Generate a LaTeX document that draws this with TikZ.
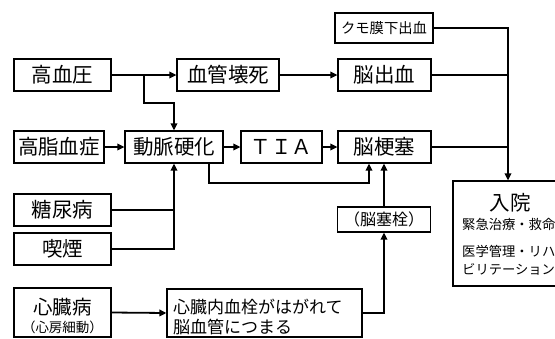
\documentclass[tikz,border=0pt]{standalone}
\usepackage{fontspec}
\setmainfont{Noto Sans CJK JP}
\usetikzlibrary{arrows.meta}
\newcommand{\myfs}[1]{\fontsize{#1pt}{#1pt}\selectfont}
\begin{document}
\begin{tikzpicture}[x=1pt,y=-1pt,
  box/.style={draw, line width=1.2pt, inner sep=0pt, minimum height=32pt},
  txt/.style={inner sep=0pt},
  arr/.style={line width=1.8pt, -{Triangle[length=7pt,width=6.5pt]}},
  ln/.style={line width=1.8pt}]
\useasboundingbox (0,0) rectangle (555,338);
% boxes
\node[box, minimum width=97pt, font=\myfs{20.5}] (hbp) at (62.5,75) {高血圧};
\node[box, minimum width=102pt, font=\myfs{20.5}] (vn) at (228,75) {血管壊死};
\node[box, minimum width=98pt, minimum height=30pt, font=\myfs{14.3}] (km) at (384,28) {クモ膜下出血};
\node[box, minimum width=93pt, font=\myfs{20.5}] (nh) at (384.5,75) {脳出血};
\node[box, minimum width=90pt, font=\myfs{20.5}] (hl) at (59,147) {高脂血症};
\node[box, minimum width=98pt, font=\myfs{20.5}] (ath) at (174,147) {動脈硬化};
\node[box, minimum width=81pt, font=\myfs{20.5}] (tia) at (281.5,147) {ＴＩＡ};
\node[box, minimum width=93pt, font=\myfs{20.5}] (nk) at (384.5,147) {脳梗塞};
\node[box, minimum width=97pt, font=\myfs{20.5}] (tou) at (62.5,210) {糖尿病};
\node[box, minimum width=97pt, font=\myfs{20.5}] (kit) at (62.5,249) {喫煙};
\node[box, minimum width=97pt, minimum height=49pt] (sz) at (62.5,312.5) {};
\node[txt, font=\myfs{19.5}] (sz1) at (62.5,307) {心臓病};
\node[txt, font=\myfs{13.5}] (sz2) at (62.5,327) {（心房細動）};
\node[box, minimum width=195pt, minimum height=48pt] (ks) at (264.5,313) {};
\node[txt, anchor=west, align=left, font=\fontsize{17pt}{20pt}\selectfont] (kst) at (173,317)
  {心臓内血栓がはがれて\\脳血管につまる};
\node[box, minimum width=93pt, minimum height=25pt, font=\myfs{16}] (ns) at (384,219.5) {（脳塞栓）};
\node[box, minimum width=104pt, minimum height=105pt] (ny) at (505,233.5) {};
\node[txt, font=\myfs{20.5}] (ny1) at (510,203) {入院};
\node[txt, font=\myfs{13.3}, anchor=west] (ny2) at (462,224) {緊急治療・救命};
\node[txt, font=\myfs{13.3}, anchor=west] (ny3) at (462,251) {医学管理・リハ};
\node[txt, font=\myfs{13.3}, anchor=west] (ny4) at (462,269) {ビリテーション};
% coordinates
\coordinate (b1) at (144,75);
\coordinate (b2) at (174,103);
\coordinate (c1) at (209,183);
\coordinate (c2) at (369,183);
\coordinate (c3) at (384,313);
\coordinate (r1) at (508,28);
% connectors
\draw[arr] (hbp) -- (vn);
\draw[arr] (b1) |- (b2) -- (ath.north);
\draw[arr] (vn) -- (nh);
\draw[arr] (hl) -- (ath);
\draw[arr] (ath) -- (tia);
\draw[arr] (tia) -- (nk);
\draw[ln] (tou.east) -- (tou.east -| ath.south);
\draw[arr] (kit.east) -| (ath.south);
\draw[arr] (ath.south -| c1) -- (c1) -- (c2) -- (c2 |- nk.south);
\draw[arr] (sz.east) -- (ks.west);
\draw[arr] (ks.east) -- (c3) -- (ns.south);
\draw[arr] (ns.north) -- (ns.north |- nk.south);
\draw[arr] (km.east) -- (r1) -- (r1 |- ny.north);
\draw[ln] (nh.east) -- (nh.east -| r1);
\draw[ln] (nk.east) -- (nk.east -| r1);
\end{tikzpicture}
\end{document}
